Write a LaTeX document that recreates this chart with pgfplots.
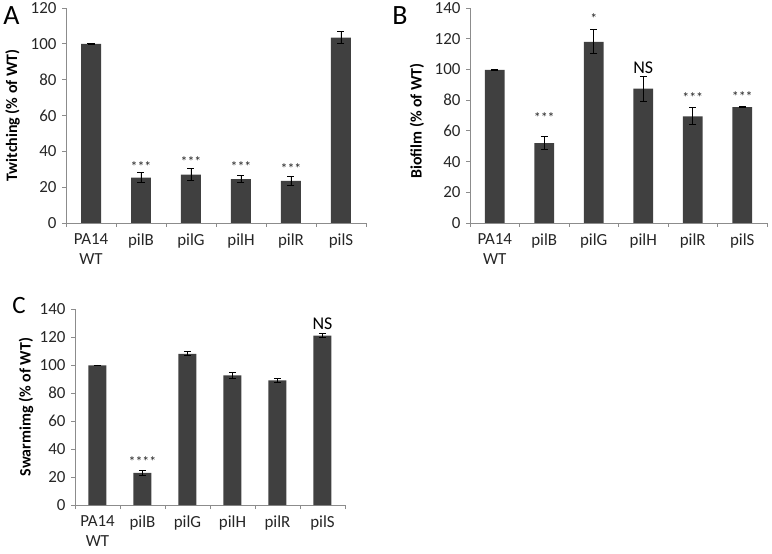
\documentclass[border=0pt]{standalone}
\usepackage{fontspec}
\setmainfont{Carlito}
\usepackage{pgfplots}
\usepackage{pgfplotstable}
\pgfplotsset{compat=1.18}
\definecolor{barc}{HTML}{404040}
\definecolor{axisgray}{HTML}{8C8C8C}

\pgfplotstableread{
x y e
0 100 0.3
1 25.3 2.8
2 27 3.5
3 24.5 2.0
4 23.5 2.5
5 103.5 3.5
}\dataA
\pgfplotstableread{
x y e
0 99.7 0.3
1 52 4.2
2 118 7.8
3 87.5 8
4 69.5 5.5
5 75.5 0.5
}\dataB
\pgfplotstableread{
x y e
0 99.7 0.3
1 23 1.5
2 108 1.5
3 92.5 2
4 89 1.5
5 121 1.5
}\dataC

\pgfplotsset{
 panel/.style={
  scale only axis, anchor=south west,
  axis lines*=left,
  axis line style={axisgray, line width=0.8bp},
  xmin=-0.5, xmax=5.5, ymin=0,
  xtick={0,...,5},
  xticklabels={{PA14\\WT},pilB,pilG,pilH,pilR,pilS},
  minor xtick={-0.5,0.5,...,5.5},
  major x tick style={draw=none},
  minor x tick style={axisgray, line width=0.8bp},
  minor tick length=4bp,
  major tick length=4bp,
  tick align=outside,
  ytick distance=20,
  y tick style={axisgray, line width=0.8bp},
  tick label style={font=\fontsize{17}{20}\selectfont, text=black!85},
  x tick label style={align=center, yshift=-3bp},
  y tick label style={xshift=-2bp},
  /pgf/number format/assume math mode=true,
  enlargelimits=false,
  clip=false,
 },
 mybars/.style={ybar, bar width=0.4, fill=barc, draw=none,
   error bars/.cd, y dir=both, y explicit,
   error bar style={black, line width=0.8bp},
   error mark options={rotate=90, mark size=3.5bp, black, line width=0.8bp}},
}
\tikzset{
 star/.style={font=\fontsize{14}{14}\selectfont, text=black!85},
 ns/.style={font=\fontsize{18}{18}\selectfont, text=black},
}

\begin{document}
\begin{tikzpicture}
\path[use as bounding box] (0,0) rectangle (772bp,554bp);

% Panel A
\begin{axis}[panel, at={(66bp,331bp)}, width=300bp, height=215bp, ymax=120]
\addplot[mybars] table[x=x, y=y, y error=e]{\dataA};
\node[star] at (axis cs:1,31.4) {***};
\node[star] at (axis cs:2,34.2) {***};
\node[star] at (axis cs:3,31.4) {***};
\node[star] at (axis cs:4,30.5) {***};
\end{axis}

% Panel B
\begin{axis}[panel, at={(470bp,331bp)}, width=297bp, height=215bp, ymax=140]
\addplot[mybars] table[x=x, y=y, y error=e]{\dataB};
\node[star] at (axis cs:1,68.4) {***};
\node[star] at (axis cs:2,133.3) {*};
\node[ns] at (axis cs:3,101) {NS};
\node[star] at (axis cs:4,81.4) {***};
\node[star] at (axis cs:5,82.2) {***};
\end{axis}

% Panel C
\begin{axis}[panel, at={(75bp,49bp)}, width=270bp, height=196bp, ymax=140]
\addplot[mybars] table[x=x, y=y, y error=e]{\dataC};
\node[star] at (axis cs:1,30.9) {****};
\node[ns] at (axis cs:5,129.8) {NS};
\end{axis}

% y labels
\node[rotate=90, font=\fontsize{16}{16}\selectfont\bfseries] at (12.5bp,438.5bp) {Twitching (\% of WT)};
\node[rotate=90, font=\fontsize{16}{16}\selectfont\bfseries] at (417bp,433bp) {Biofilm (\% of WT)};
\node[rotate=90, font=\fontsize{16}{16}\selectfont\bfseries] at (26bp,147bp) {Swarmimg (\% of WT)};

% panel letters
\node[font=\fontsize{28}{28}\selectfont] at (11.5bp,538bp) {A};
\node[font=\fontsize{28}{28}\selectfont] at (400bp,538bp) {B};
\node[font=\fontsize{25}{25}\selectfont] at (19bp,248bp) {C};
\end{tikzpicture}
\end{document}
